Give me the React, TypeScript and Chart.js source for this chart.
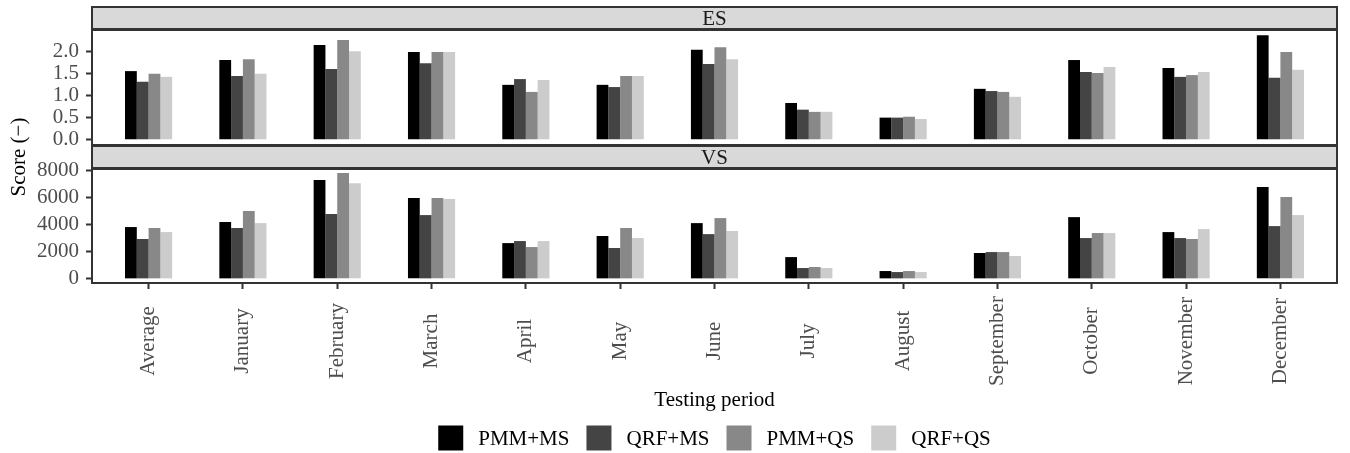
import React, { useEffect, useRef } from 'react';
import { Chart, registerables } from 'chart.js';

Chart.register(...registerables);

const FONT = "'Liberation Serif', 'DejaVu Serif', serif";
const FS = 21;

const categories = [
  'Average', 'January', 'February', 'March', 'April', 'May', 'June',
  'July', 'August', 'September', 'October', 'November', 'December',
];
const seriesNames = ['PMM+MS', 'QRF+MS', 'PMM+QS', 'QRF+QS'];
const seriesColors = ['#000000', '#444444', '#888888', '#cccccc'];

// ES panel values
const esPmmMs = [1.55, 1.80, 2.14, 1.98, 1.24, 1.24, 2.03, 0.83, 0.50, 1.15, 1.80, 1.62, 2.36];
const esQrfMs = [1.31, 1.44, 1.60, 1.73, 1.37, 1.19, 1.71, 0.68, 0.50, 1.10, 1.53, 1.42, 1.40];
const esPmmQs = [1.49, 1.82, 2.25, 1.98, 1.08, 1.44, 2.09, 0.63, 0.52, 1.08, 1.51, 1.46, 1.98];
const esQrfQs = [1.42, 1.49, 2.00, 1.98, 1.35, 1.44, 1.82, 0.63, 0.47, 0.97, 1.64, 1.53, 1.58];

// VS panel values
const vsPmmMs = [3810, 4180, 7270, 5940, 2630, 3150, 4100, 1600, 575, 1900, 4540, 3440, 6750];
const vsQrfMs = [2930, 3740, 4770, 4690, 2780, 2270, 3290, 795, 500, 1970, 3000, 3000, 3880];
const vsPmmQs = [3740, 4990, 7780, 5940, 2340, 3740, 4470, 870, 575, 1970, 3370, 2930, 6020];
const vsQrfQs = [3440, 4100, 7040, 5870, 2780, 3000, 3520, 795, 500, 1680, 3370, 3660, 4690];

const esTicks = [0, 0.5, 1, 1.5, 2];
const esMinorTicks = [0.25, 0.75, 1.25, 1.75, 2.25];
const vsTicks = [0, 2000, 4000, 6000, 8000];
const vsMinorTicks = [1000, 3000, 5000, 7000];
const esLimits = [-0.118, 2.478];
const vsLimits = [-305, 8080];
const xLimits = [-0.6, 12.6];

const stripPlugin = {
  id: 'strip',
  afterDraw(chart: any, _args: any, opts: any) {
    const { ctx, chartArea } = chart;
    const { left, right, top, bottom } = chartArea;
    ctx.save();
    const sTop = opts.top;
    const sBottom = top - 1;
    ctx.fillStyle = '#d9d9d9';
    ctx.fillRect(left, sTop, right - left, sBottom - sTop);
    ctx.strokeStyle = '#333333';
    ctx.lineWidth = 2;
    ctx.strokeRect(left, sTop, right - left, sBottom - sTop);
    ctx.fillStyle = '#1a1a1a';
    ctx.font = `${FS}px ${FONT}`;
    ctx.textAlign = 'center';
    ctx.textBaseline = 'middle';
    ctx.fillText(opts.text, (left + right) / 2, (sTop + sBottom) / 2 + 1);
    ctx.strokeRect(left, top, right - left, bottom - top);
    ctx.restore();
  },
};

const yTitlePlugin = {
  id: 'yTitle',
  afterDraw(chart: any, _args: any, opts: any) {
    if (!opts.text) return;
    const { ctx } = chart;
    ctx.save();
    ctx.translate(opts.x, opts.y);
    ctx.rotate(-Math.PI / 2);
    ctx.fillStyle = '#000000';
    ctx.font = `${FS}px ${FONT}`;
    ctx.textAlign = 'center';
    ctx.textBaseline = 'alphabetic';
    ctx.fillText(opts.text, 0, 0);
    ctx.restore();
  },
};

// x tick labels, rotated 90 degrees and centred on a line below the axis
const xLabelPlugin = {
  id: 'xLabels',
  afterDraw(chart: any, _args: any, opts: any) {
    if (!opts.display) return;
    const { ctx } = chart;
    const scale = chart.scales.x;
    ctx.save();
    ctx.fillStyle = '#4d4d4d';
    ctx.font = `${FS}px ${FONT}`;
    ctx.textAlign = 'center';
    ctx.textBaseline = 'middle';
    categories.forEach((label, i) => {
      const px = scale.getPixelForValue(i);
      ctx.save();
      ctx.translate(px, opts.y);
      ctx.rotate(-Math.PI / 2);
      ctx.fillText(label, 0, 0);
      ctx.restore();
    });
    ctx.restore();
  },
};

const legendPlugin = {
  id: 'boxLegend',
  afterDraw(chart: any, _args: any, opts: any) {
    if (!opts.display) return;
    const { ctx, chartArea } = chart;
    ctx.save();
    ctx.font = `${opts.fontSize}px ${FONT}`;
    const items = chart.data.datasets.map((d: any) => ({ text: d.label, color: d.backgroundColor }));
    const widths = items.map((it: any) => opts.box + opts.gap + ctx.measureText(it.text).width);
    const total = widths.reduce((a: number, b: number) => a + b, 0) + opts.spacing * (items.length - 1);
    let x = (chartArea.left + chartArea.right) / 2 - total / 2 + opts.shift;
    const y = opts.y;
    ctx.textAlign = 'left';
    ctx.textBaseline = 'middle';
    items.forEach((it: any, i: number) => {
      ctx.fillStyle = it.color;
      ctx.fillRect(x, y - opts.box / 2, opts.box, opts.box);
      ctx.fillStyle = '#000000';
      ctx.fillText(it.text, x + opts.box + opts.gap, y + 1);
      x += widths[i] + opts.spacing;
    });
    ctx.restore();
  },
};

function makeDatasets(series: number[][]) {
  return series.map((vals, k) => ({
    label: seriesNames[k],
    data: vals.map((v, i) => ({ x: i, y: v })),
    backgroundColor: seriesColors[k],
    borderWidth: 0,
    categoryPercentage: 0.5,
    barPercentage: 1.0,
  }));
}

function yScale(limits: number[], major: number[], minor: number[], fmt: (v: number) => string) {
  return {
    type: 'linear',
    min: limits[0],
    max: limits[1],
    afterBuildTicks: (s: any) => {
      s.ticks = [...major, ...minor].sort((a, b) => a - b).map((v) => ({ value: v }));
    },
    afterFit: (s: any) => {
      s.width = 92;
    },
    grid: {
      color: (c: any) => (c.tick && minor.includes(c.tick.value) ? '#ebebeb' : 'rgba(0,0,0,0)'),
      lineWidth: 1,
      tickLength: 6,
      tickWidth: 2,
      tickColor: (c: any) => (c.tick && major.includes(c.tick.value) ? '#333333' : 'rgba(0,0,0,0)'),
    },
    border: { display: false },
    ticks: {
      padding: 7,
      color: '#4d4d4d',
      font: { family: FONT, size: FS },
      callback: (v: number) => (major.includes(v) ? fmt(v) : ''),
    },
  };
}

function xScale(showAxis: boolean) {
  return {
    type: 'linear',
    min: xLimits[0],
    max: xLimits[1],
    offset: false,
    display: showAxis,
    afterBuildTicks: (s: any) => {
      s.ticks = categories.map((_, i) => ({ value: i }));
    },
    afterFit: (s: any) => {
      s.height = showAxis ? 130 : 0;
    },
    grid: {
      display: true,
      offset: false,
      drawOnChartArea: false,
      drawTicks: true,
      tickLength: 6,
      tickWidth: 2,
      tickColor: '#333333',
      color: '#333333',
    },
    border: { display: false },
    ticks: { display: false, autoSkip: false },
    title: {
      display: showAxis,
      text: 'Testing period',
      color: '#000000',
      font: { family: FONT, size: FS },
      padding: { top: 0, bottom: 0 },
    },
  };
}

export default function App() {
  const topRef = useRef<HTMLCanvasElement | null>(null);
  const botRef = useRef<HTMLCanvasElement | null>(null);

  useEffect(() => {
    const common = {
      responsive: false,
      animation: false,
      events: [],
    };
    const top = new Chart(topRef.current as HTMLCanvasElement, {
      type: 'bar',
      data: { datasets: makeDatasets([esPmmMs, esQrfMs, esPmmQs, esQrfQs]) as any },
      plugins: [stripPlugin],
      options: {
        ...common,
        layout: { padding: { top: 30, bottom: 453 - 145, left: 0, right: 13 } },
        plugins: {
          legend: { display: false },
          tooltip: { enabled: false },
          strip: { text: 'ES', top: 7 },
        } as any,
        scales: {
          x: xScale(false),
          y: yScale(esLimits, esTicks, esMinorTicks, (v) => v.toFixed(1)),
        } as any,
      } as any,
    });

    const bot = new Chart(botRef.current as HTMLCanvasElement, {
      type: 'bar',
      data: { datasets: makeDatasets([vsPmmMs, vsQrfMs, vsPmmQs, vsQrfQs]) as any },
      plugins: [stripPlugin, yTitlePlugin, xLabelPlugin, legendPlugin],
      options: {
        ...common,
        layout: { padding: { top: 169, bottom: 40, left: 0, right: 13 } },
        plugins: {
          legend: { display: false },
          tooltip: { enabled: false },
          strip: { text: 'VS', top: 146 },
          yTitle: { text: 'Score (\u2212)', x: 25, y: 157 },
          xLabels: { display: true, y: 341 },
          boxLegend: { display: true, fontSize: FS, box: 25, gap: 15, spacing: 17, shift: 0, y: 438 },
        } as any,
        scales: {
          x: xScale(true),
          y: yScale(vsLimits, vsTicks, vsMinorTicks, (v) => String(v)),
        } as any,
      } as any,
    });

    return () => {
      top.destroy();
      bot.destroy();
    };
  }, []);

  const canvasStyle: React.CSSProperties = { position: 'absolute', left: 0, top: 0 };
  return (
    <div style={{ position: 'absolute', left: 0, top: 0, width: 1350, height: 453, background: '#ffffff' }}>
      <canvas ref={topRef} width={1350} height={453} style={canvasStyle} />
      <canvas ref={botRef} width={1350} height={453} style={canvasStyle} />
    </div>
  );
}
